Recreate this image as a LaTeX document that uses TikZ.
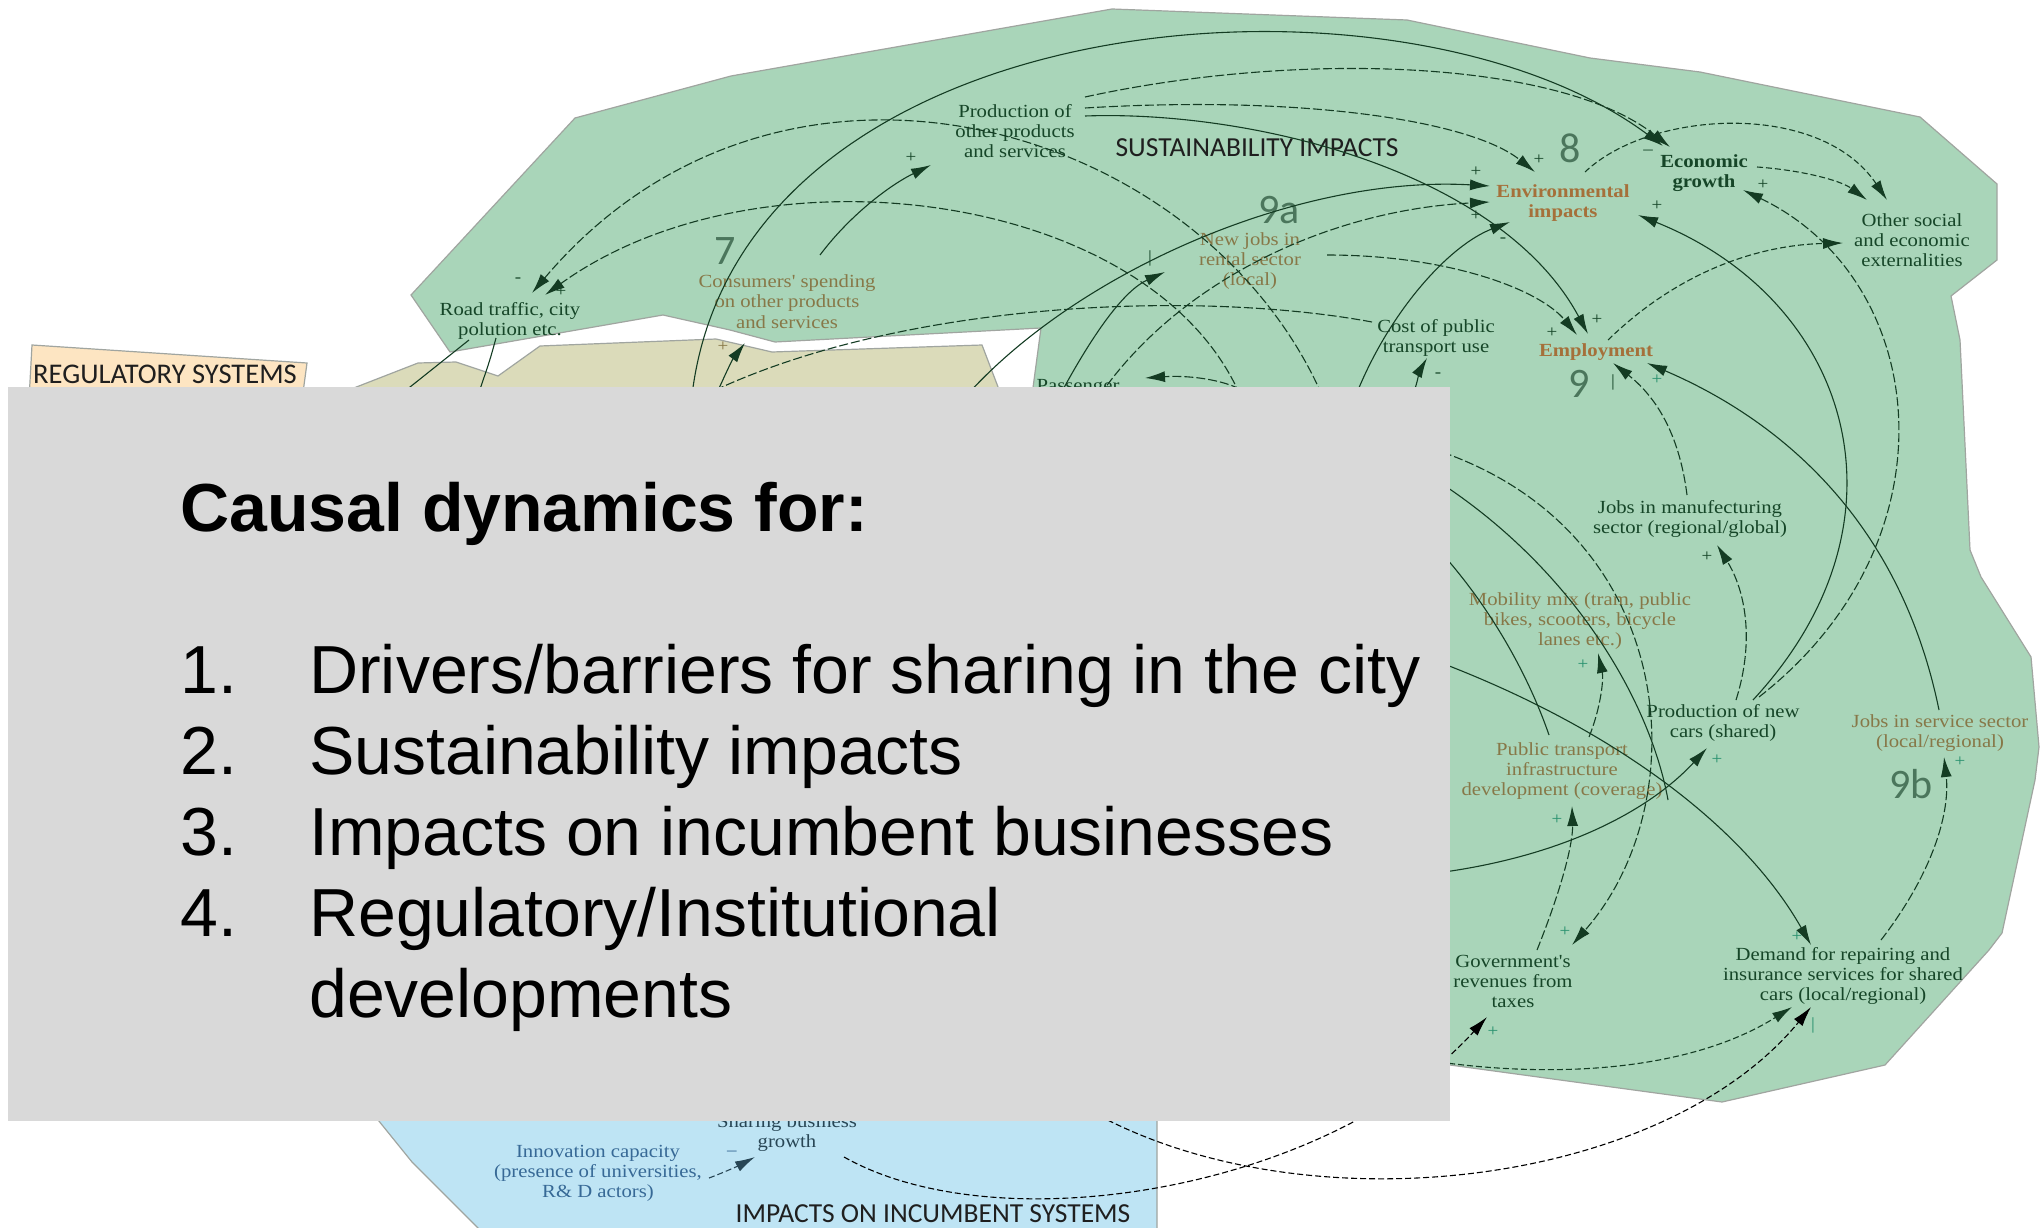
\documentclass[tikz,border=0pt]{standalone}
\usepackage{fontspec}
\setmainfont{Liberation Serif}
\newfontfamily\boxfont{Liberation Sans}
\newfontfamily\headfont{Carlito}
\newfontfamily\labfont{Liberation Serif}[FakeStretch=1.12]
\usetikzlibrary{arrows.meta}
\definecolor{gfill}{RGB}{169,213,185}
\definecolor{tfill}{RGB}{219,219,186}
\definecolor{ofill}{RGB}{253,229,194}
\definecolor{bfill}{RGB}{190,228,244}
\definecolor{zedge}{RGB}{160,165,160}
\definecolor{boxgray}{RGB}{217,217,217}
\definecolor{tgreen}{RGB}{22,70,40}
\definecolor{tolive}{RGB}{135,120,72}
\definecolor{tbrown}{RGB}{165,112,58}
\definecolor{numc}{RGB}{75,118,92}
\definecolor{tteal}{RGB}{40,145,110}
\definecolor{lgreen}{RGB}{20,60,35}
\definecolor{tblue}{RGB}{55,105,150}
\definecolor{tslate}{RGB}{40,70,85}
\tikzset{
  zone/.style={draw=zedge, line width=1.2pt},
  lbl/.style={font=\labfont\fontsize{18.5}{20.3}\selectfont, align=center, inner sep=0pt, anchor=base, text=tgreen},
  olbl/.style={lbl, text=tolive},
  blbl/.style={lbl, font=\labfont\bfseries\fontsize{18.5}{20.3}\selectfont, text=tbrown},
  glbl/.style={blbl, text=tgreen},
  num/.style={font=\headfont\fontsize{42}{42}\selectfont, text=numc, anchor=base, inner sep=0pt},
  region/.style={font=\headfont\fontsize{27.5}{28}\selectfont, anchor=base, inner sep=0pt, text=black!88},
  sgn/.style={font=\labfont\fontsize{17}{17}\selectfont, inner sep=0pt, text=tgreen},
  tsgn/.style={sgn, text=tteal},
  link/.style={draw=lgreen, line width=1.1pt},
  arr/.style={link, -{Latex[length=20pt,width=11pt]}},
  dlong/.style={dash pattern=on 9pt off 3pt},
  dshort/.style={dash pattern=on 6pt off 3pt},
  boxtxt/.style={font=\boxfont\fontsize{68}{68}\selectfont, anchor=base west, inner sep=0pt, text=black},
}
\begin{document}
\begin{tikzpicture}[x=1pt,y=-1pt]
\useasboundingbox (0,0) rectangle (2042,1228);
\fill[white] (0,0) rectangle (2042,1228);
% ---------- zones ----------
\draw[zone, fill=gfill] (411,295) -- (575,118) -- (731,76) -- (1112,9) -- (1407,20) -- (1590,58) -- (1700,72) -- (1920,117) -- (1997,184) -- (1997,260) -- (1951,296) -- (1960,340) -- (1970,550) -- (1981,577) -- (2031,657) -- (2039,747) -- (2035,780) -- (2002,933) -- (1989,950) -- (1885,1065) -- (1722,1102) -- (1450,1065) -- (1300,1060) -- (1036,700) -- (1032,395) -- (1041,328) -- (775,342) -- (730,330) -- (663,315) -- (450,352) -- cycle;
\draw[zone, fill=tfill] (323,400) -- (418,363) -- (456,362) -- (498,376) -- (540,346) -- (716,339) -- (772,352) -- (982,345) -- (1003,400) -- cycle;
\draw[zone, fill=ofill] (32,345) -- (307,363) -- (302,400) -- (29,400) -- cycle;
\draw[zone, fill=bfill] (370,1110) -- (412,1162) -- (490,1240) -- (1157,1240) -- (1157,1110) -- cycle;
% ---------- region titles ----------
\node[region] (hsust) at (1257,157) {SUSTAINABILITY IMPACTS};
\node[region, font=\headfont\fontsize{28.5}{29}\selectfont] (hreg) at (165,383) {REGULATORY SYSTEMS};
\node[region] (hinc) at (933,1222) {IMPACTS ON INCUMBENT SYSTEMS};
% ---------- numbers ----------
\node[num] (n7) at (725,264) {7};
\node[num] (n8) at (1570,162) {8};
\node[num] (n9a) at (1279,223) {9a};
\node[num] (n9) at (1579,397) {9};
\node[num] (n9b) at (1911,798) {9b};
% ---------- variables (base = last line) ----------
\node[lbl] (prodother) at (1015,157.6) {Production of\\other products\\and services};
\node[lbl] (road) at (510,335.3) {Road traffic, city\\polution etc.};
\node[olbl] (consumers) at (787,328) {Consumers' spending\\on other products\\and services};
\node[olbl] (newjobs) at (1250,285.6) {New jobs in\\rental sector\\(local)};
\node[lbl] (cost) at (1436,352.3) {Cost of public\\transport use};
\node[blbl] (employment) at (1596,356) {Employment};
\node[blbl] (env) at (1563,217.3) {Environmental\\impacts};
\node[glbl] (econ) at (1704,187.3) {Economic\\growth};
\node[lbl] (other) at (1912,266.6) {Other social\\and economic\\externalities};
\node[lbl] (passenger) at (1078,391) {Passenger};
\node[lbl] (jobsmfg) at (1690,533.3) {Jobs in manufecturing\\sector (regional/global)};
\node[olbl] (mobility) at (1580,645.6) {Mobility mix (tram, public\\bikes, scooters, bicycle\\lanes etc.)};
\node[olbl] (publictr) at (1562,795.6) {Public transport\\infrastructure\\development (coverage)};
\node[lbl] (prodnew) at (1723,737.3) {Production of new\\cars (shared)};
\node[olbl] (jobsserv) at (1940,747.3) {Jobs in service sector\\(local/regional)};
\node[lbl] (gov) at (1513,1007.6) {Government's\\revenues from\\taxes};
\node[lbl] (demand) at (1843,1000.6) {Demand for repairing and\\insurance services for shared\\cars (local/regional)};
\node[lbl, text=tblue] (innov) at (598,1197.6) {Innovation capacity\\(presence of universities,\\R\& D actors)};
\node[lbl, text=tslate] (sharing) at (787,1147.3) {Sharing business\\growth};
% ---------- connector end points ----------
\coordinate (c1s) at (1322,395);  \coordinate (roadA) at (532,293);
\coordinate (c2s) at (1240,395);  \coordinate (roadB) at (545,295);
\coordinate (consO) at (820,255); \coordinate (prodI) at (931,165);
\coordinate (dS) at (692,395);    \coordinate (econA) at (1663,146);
\coordinate (prodO1) at (1085,97); \coordinate (econB) at (1670,147);
\coordinate (prodO2) at (1085,108); \coordinate (envT) at (1535,172);
\coordinate (prodO3) at (1085,116); \coordinate (empT) at (1588,334);
\coordinate (e1s) at (967,395);   \coordinate (envL1) at (1490,186);
\coordinate (e2s) at (1100,395);  \coordinate (envL2) at (1490,202);
\coordinate (e3s) at (1356,395);  \coordinate (envB) at (1510,222);
\coordinate (njO) at (1327,255);  \coordinate (empL) at (1577,335);
\coordinate (jS) at (1060,395);   \coordinate (njI) at (1165,272);
\coordinate (costW) at (1372,322); \coordinate (fE) at (705,395);
\coordinate (gS) at (716,395);    \coordinate (consI) at (745,343);
\coordinate (roadO1) at (469,340); \coordinate (rh1) at (400,395);
\coordinate (roadO2) at (496,338); \coordinate (rh2) at (478,395);
\coordinate (pS) at (1250,395);   \coordinate (passI) at (1145,378);
\coordinate (kS) at (1413,395);   \coordinate (costI) at (1427,358);
\coordinate (envR) at (1585,172); \coordinate (othA) at (1887,200);
\coordinate (econR) at (1757,167); \coordinate (othB) at (1867,200);
\coordinate (empR) at (1608,340); \coordinate (othC) at (1843,243);
\coordinate (pnO1) at (1753,700); \coordinate (envRI) at (1638,215);
\coordinate (pnO2) at (1759,697); \coordinate (econI) at (1743,190);
\coordinate (jmO) at (1687,495);  \coordinate (empB1) at (1613,363);
\coordinate (jsO) at (1939,710);  \coordinate (empB2) at (1647,363);
\coordinate (pnO3) at (1736,700); \coordinate (jmI) at (1717,545);
\coordinate (ptO) at (1589,737);  \coordinate (mobI) at (1598,653);
\coordinate (govO) at (1537,950); \coordinate (ptI) at (1572,806);
\coordinate (h16) at (1420,875);  \coordinate (pnI) at (1707,748);
\coordinate (h17) at (1420,655);  \coordinate (demT) at (1811,945);
\coordinate (hL1) at (1420,445);  \coordinate (govT) at (1572,945);
\coordinate (hL2) at (1420,470);  \coordinate (ptR) at (1668,800);
\coordinate (hL3) at (1420,530);  \coordinate (ptT) at (1549,735);
\coordinate (demO) at (1881,940); \coordinate (jsI) at (1944,757);
\coordinate (hZ) at (1300,1030);  \coordinate (demB1) at (1792,1007);
\coordinate (hX) at (1000,1040);  \coordinate (demB2) at (1811,1007);
\coordinate (shO) at (844,1157);  \coordinate (govB) at (1487,1017);
\coordinate (inO) at (709,1178);  \coordinate (shI) at (755,1157);
% ---------- connectors ----------
\draw[arr, dlong] (c1s) .. controls (1200,120) and (780,0) .. (roadA);
\draw[arr, dlong] (c2s) .. controls (1150,190) and (760,140) .. (roadB);
\draw[arr] (consO) .. controls (850,215) and (890,185) .. (prodI);
\draw[arr] (dS) .. controls (740,0) and (1400,-50) .. (econA);
\draw[arr, dlong] (prodO1) .. controls (1300,50) and (1560,60) .. (econB);
\draw[arr, dlong] (prodO2) .. controls (1300,95) and (1470,120) .. (envT);
\draw[arr] (prodO3) .. controls (1250,110) and (1500,170) .. (empT);
\draw[arr] (e1s) .. controls (1080,270) and (1300,175) .. (envL1);
\draw[arr, dlong] (e2s) .. controls (1180,280) and (1330,210) .. (envL2);
\draw[arr] (e3s) .. controls (1390,310) and (1450,245) .. (envB);
\draw[arr, dlong] (njO) .. controls (1450,255) and (1540,290) .. (empL);
\draw[arr] (jS) .. controls (1095,330) and (1125,290) .. (njI);
\draw[link, dlong] (costW) .. controls (1200,290) and (900,300) .. (fE);
\draw[arr] (gS) .. controls (725,375) and (732,360) .. (consI);
\draw[link] (roadO1) -- (rh1);
\draw[link] (roadO2) .. controls (490,360) .. (rh2);
\draw[arr, dlong] (pS) .. controls (1230,380) and (1190,375) .. (passI);
\draw[arr] (kS) .. controls (1418,380) and (1420,370) .. (costI);
\draw[arr, dshort] (envR) .. controls (1650,110) and (1820,100) .. (othA);
\draw[arr, dshort] (econR) .. controls (1800,170) and (1840,180) .. (othB);
\draw[arr, dshort] (empR) .. controls (1680,270) and (1760,245) .. (othC);
\draw[arr] (pnO1) .. controls (1920,520) and (1850,300) .. (envRI);
\draw[arr, dlong] (pnO2) .. controls (1960,540) and (1930,280) .. (econI);
\draw[arr, dlong] (jmO) .. controls (1680,440) and (1660,400) .. (empB1);
\draw[arr] (jsO) .. controls (1900,520) and (1780,420) .. (empB2);
\draw[arr, dlong] (pnO3) .. controls (1755,640) and (1745,590) .. (jmI);
\draw[arr, dlong] (ptO) .. controls (1600,710) and (1604,680) .. (mobI);
\draw[arr, dlong] (govO) .. controls (1565,880) and (1573,840) .. (ptI);
\draw[arr] (h16) .. controls (1560,860) and (1650,810) .. (pnI);
\draw[arr] (h17) .. controls (1600,720) and (1740,820) .. (demT);
\draw[arr, dlong] (hL1) .. controls (1680,520) and (1700,800) .. (govT);
\draw[link] (hL2) .. controls (1570,560) and (1650,700) .. (ptR);
\draw[link] (hL3) .. controls (1490,600) and (1530,680) .. (ptT);
\draw[arr, dlong] (demO) .. controls (1935,870) and (1950,810) .. (jsI);
\draw[arr, dshort] (hZ) .. controls (1450,1080) and (1660,1090) .. (demB1);
\draw[arr, dshort, draw=black] (hX) .. controls (1180,1240) and (1640,1215) .. (demB2);
\draw[arr, dshort, draw=black] (shO) .. controls (1000,1245) and (1330,1190) .. (govB);
\draw[arr, dshort, draw=tslate] (inO) .. controls (725,1172) and (740,1165) .. (shI);
% ---------- polarity signs ----------
\node[sgn] (s1) at (518,280) {-};
\node[sgn] (s2) at (561,292) {+};
\node[sgn] (s3) at (911,158) {+};
\node[sgn, text=tolive] (s4) at (723,347) {+};
\node[sgn] (s5) at (1539,160) {+};
\node[sgn] (s6) at (1476,172) {+};
\node[sgn] (s7) at (1476,216) {+};
\node[sgn] (s8) at (1503,240) {-};
\node[sgn] (s9) at (1648,152) {–};
\node[sgn] (s10) at (1657,206) {+};
\node[sgn] (s11) at (1763,185) {+};
\node[sgn] (s12) at (1150,258) {|};
\node[sgn] (s13) at (1597,320) {+};
\node[sgn] (s14) at (1552,333) {+};
\node[sgn] (s15) at (1613,382) {|};
\node[tsgn] (s16) at (1657,380) {+};
\node[sgn] (s17) at (1438,375) {-};
\node[sgn] (s18) at (1707,557) {+};
\node[tsgn] (s19) at (1583,665) {+};
\node[tsgn] (s20) at (1557,820) {+};
\node[tsgn] (s21) at (1717,760) {+};
\node[tsgn] (s22) at (1960,762) {+};
\node[tsgn] (s23) at (1565,932) {+};
\node[tsgn] (s24) at (1797,937) {+};
\node[tsgn] (s25) at (1813,1025) {|};
\node[tsgn] (s26) at (1493,1032) {+};
\node[sgn, text=tblue] (s27) at (732,1153) {–};
% ---------- overlay box ----------
\node[fill=boxgray, inner sep=0pt, minimum width=1442pt, minimum height=734pt, anchor=north west] (infobox) at (8,387) {};
\node[boxtxt, font=\boxfont\bfseries\fontsize{68}{68}\selectfont] (title) at (180,531) {Causal dynamics for:};
\node[boxtxt] (i1n) at (180,693) {1.};
\node[boxtxt] (i1) at (309,693) {Drivers/barriers for sharing in the city};
\node[boxtxt] (i2n) at (180,774) {2.};
\node[boxtxt] (i2) at (309,774) {Sustainability impacts};
\node[boxtxt] (i3n) at (180,855) {3.};
\node[boxtxt] (i3) at (309,855) {Impacts on incumbent businesses};
\node[boxtxt] (i4n) at (180,936) {4.};
\node[boxtxt] (i4) at (309,936) {Regulatory/Institutional};
\node[boxtxt] (i4b) at (309,1017) {developments};
\end{tikzpicture}
\end{document}
